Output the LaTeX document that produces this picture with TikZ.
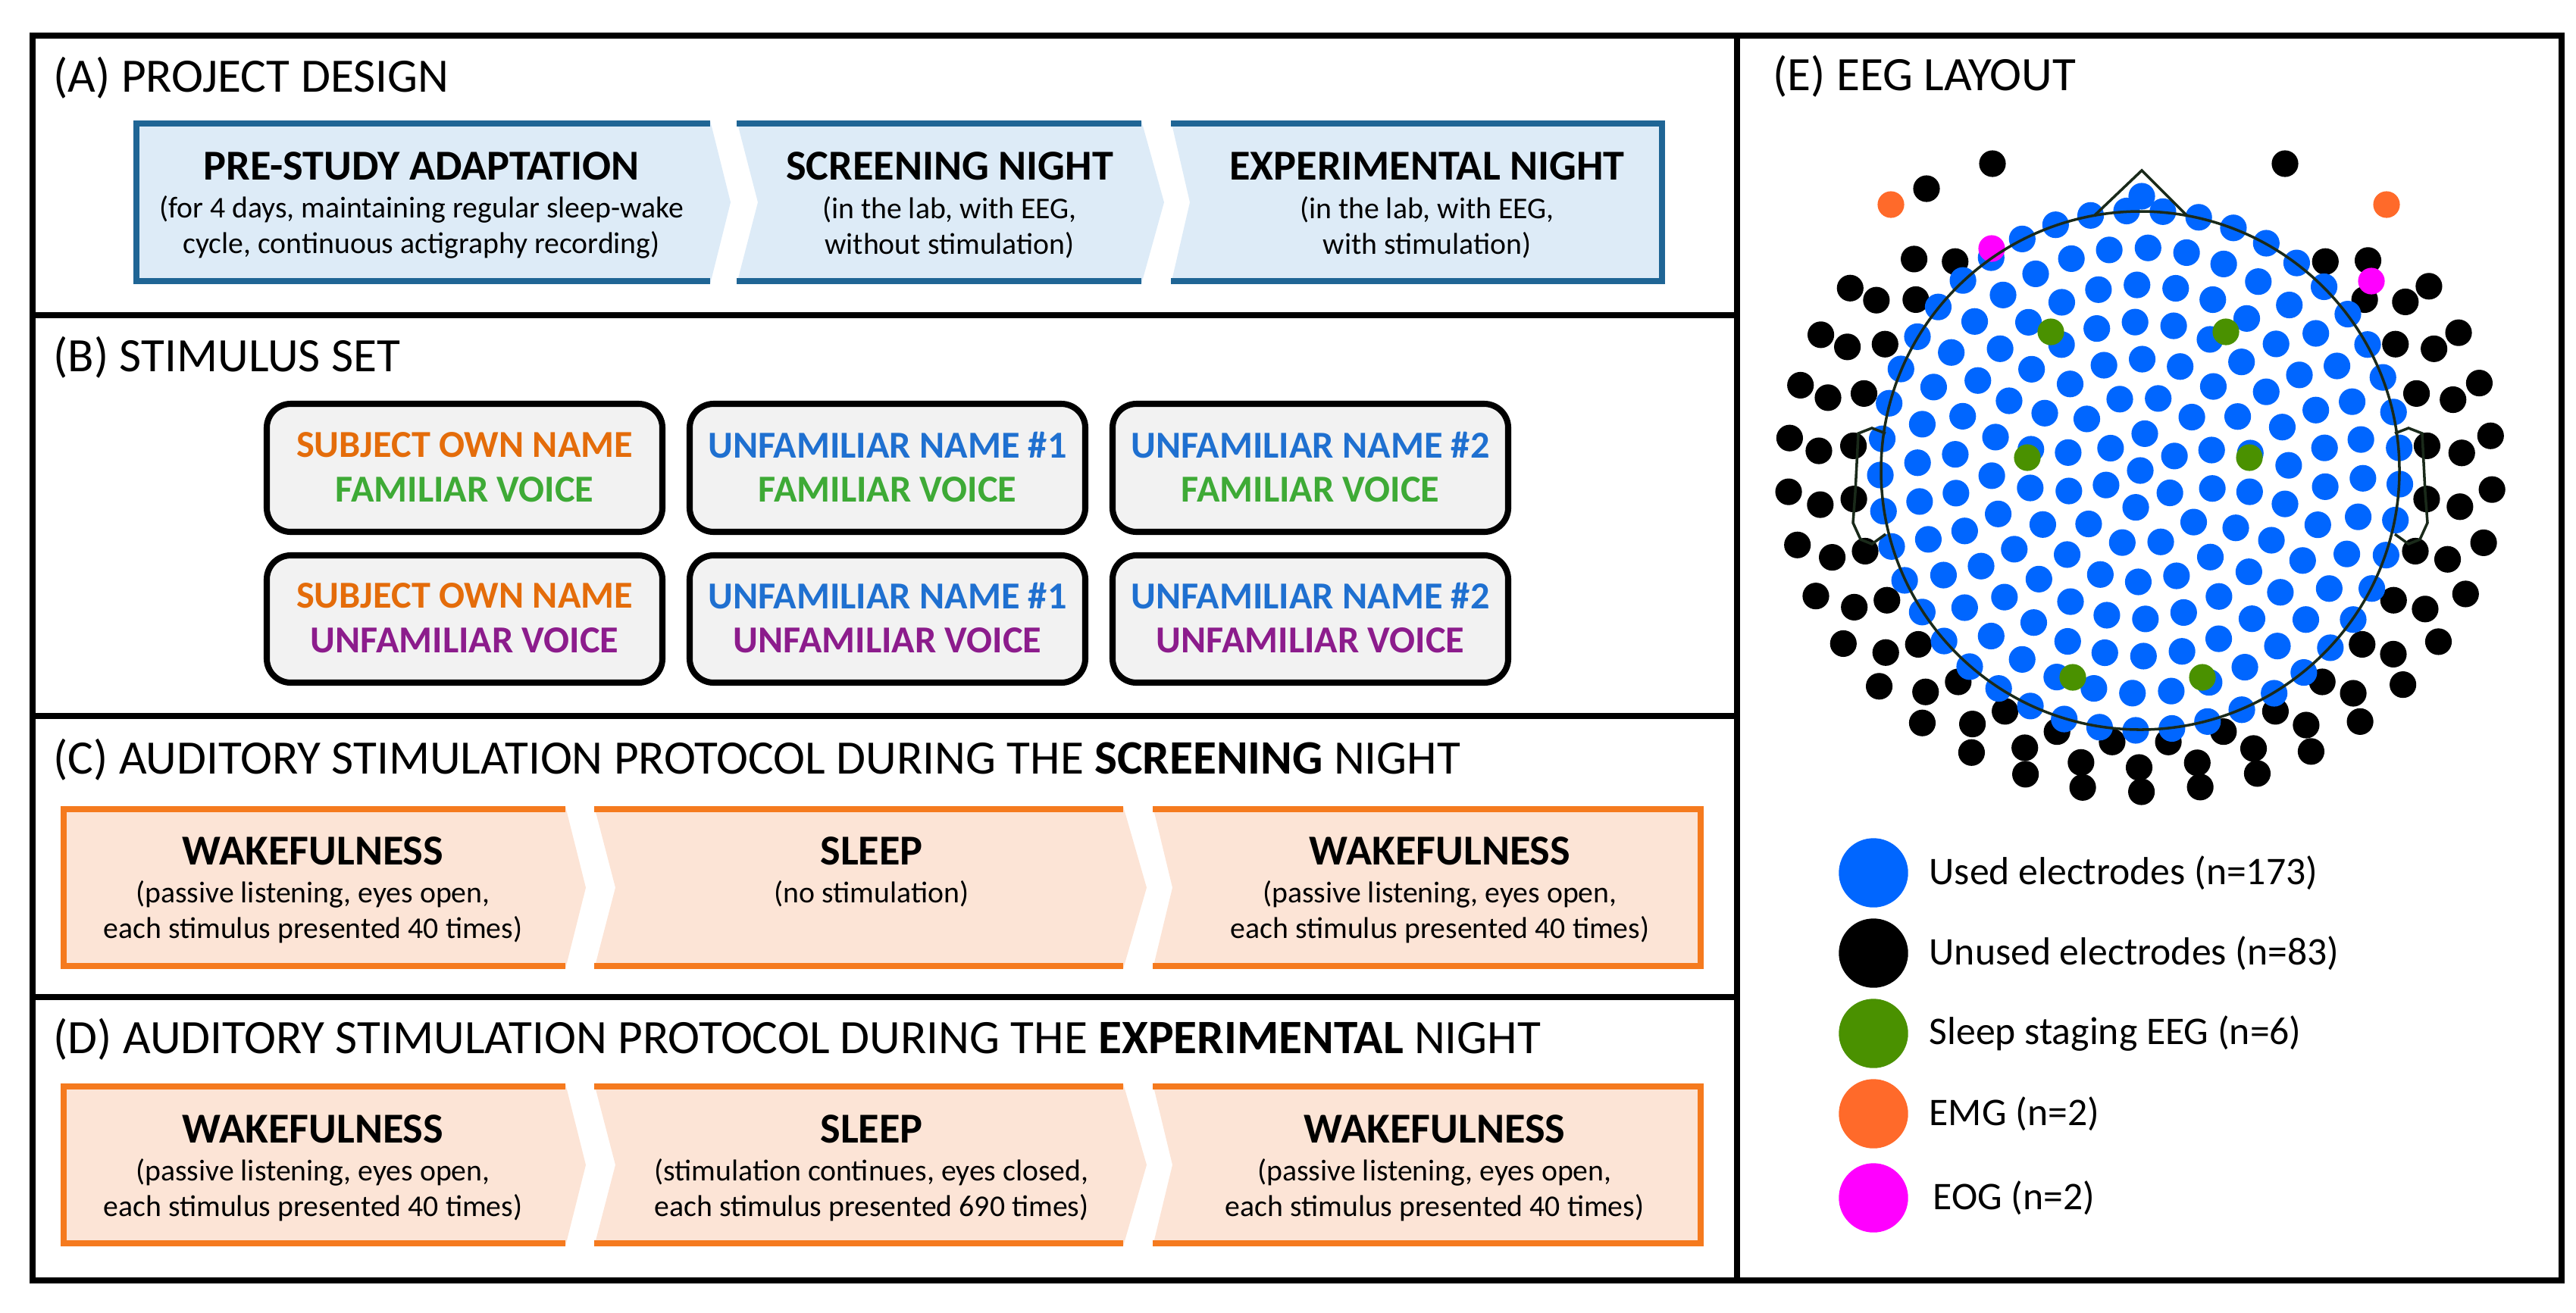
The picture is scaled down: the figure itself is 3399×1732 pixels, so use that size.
\documentclass[tikz,border=0pt]{standalone}
\usepackage{fontspec}
\setmainfont{Carlito}
\begin{document}
\begin{tikzpicture}[x=0.01cm,y=-0.01cm]
\definecolor{bstroke}{HTML}{1F6595}
\definecolor{bfill}{HTML}{DDEBF7}
\definecolor{ostroke}{HTML}{F57A1E}
\definecolor{ofill}{HTML}{FCE4D6}
\definecolor{tor}{HTML}{E46C0A}
\definecolor{tbl}{HTML}{1F70D0}
\definecolor{tgr}{HTML}{3EAA36}
\definecolor{tpu}{HTML}{8C1C8C}
\definecolor{eblue}{HTML}{0066FF}
\definecolor{egreen}{HTML}{4A9100}
\definecolor{eorange}{HTML}{FF6A2A}
\definecolor{emag}{HTML}{FF00FF}
\definecolor{head}{HTML}{1A2A1A}
\tikzset{
 frame/.style={line width=2.2pt},
 ttl/.style={anchor=west,font=\fontsize{18}{21}\selectfont,inner sep=0},
 ctitle/.style={font=\bfseries\fontsize{16}{19}\selectfont,inner sep=0},
 csub/.style={font=\fontsize{11.3}{13.3}\selectfont,align=center,inner sep=0},
 sbox/.style={draw=black,line width=2.3pt,fill=black!5,rounded corners=9pt},
 stxt/.style={font=\bfseries\fontsize{14.3}{17}\selectfont,inner sep=0},
 leg/.style={anchor=west,font=\fontsize{14.7}{17}\selectfont,inner sep=0},
}
\useasboundingbox (0,0) rectangle (3399,1732);
% frame
\draw[frame] (43,47) rectangle (3380,1690);
\draw[frame] (2292,47) -- (2292,1690);
\draw[frame] (43,416) -- (2292,416);
\draw[frame] (43,945) -- (2292,945);
\draw[frame] (43,1316) -- (2292,1316);
% titles
\node[ttl] (ta) at (70,103) {(A) PROJECT DESIGN};
\node[ttl] (tb) at (70,472) {(B) STIMULUS SET};
\node[ttl] (tc) at (70,1003) {(C) AUDITORY STIMULATION PROTOCOL DURING THE \textbf{SCREENING} NIGHT};
\node[ttl] (td) at (70,1372) {(D) AUDITORY STIMULATION PROTOCOL DURING THE \textbf{EXPERIMENTAL} NIGHT};
\node[ttl] (te) at (2339,101) {(E) EEG LAYOUT};
% (A) chevrons
\fill[bfill] (176,159)--(937,159)--(964,267)--(937,375)--(176,375)--cycle;
\fill[bfill] (972,159)--(1506,159)--(1536,267)--(1506,375)--(972,375)--(1000,267)--cycle;
\fill[bfill] (1545,159)--(2197,159)--(2197,375)--(1545,375)--(1570,267)--cycle;
\draw[bstroke,line width=2.3pt] (937,163)--(180,163)--(180,371)--(937,371);
\draw[bstroke,line width=2.3pt] (972,163)--(1506,163) (972,371)--(1506,371);
\draw[bstroke,line width=2.3pt] (1545,163)--(2193,163)--(2193,371)--(1545,371);
\node[ctitle] (a1) at (556,219) {PRE-STUDY ADAPTATION};
\node[csub] (a1s) at (556,300) {(for 4 days, maintaining regular sleep-wake\\cycle, continuous actigraphy recording)};
\node[ctitle] (a2) at (1253,219) {SCREENING NIGHT};
\node[csub] (a2s) at (1253,300) {(in the lab, with EEG,\\without stimulation)};
\node[ctitle] (a3) at (1883,219) {EXPERIMENTAL NIGHT};
\node[csub] (a3s) at (1883,300) {(in the lab, with EEG,\\with stimulation)};
% (B) boxes
\foreach \x/\nm/\c in {352/SUBJECT OWN NAME/tor, 910/UNFAMILIAR NAME \#1/tbl, 1468/UNFAMILIAR NAME \#2/tbl}{
  \draw[sbox] (\x,533) rectangle ++(522,169);
  \draw[sbox] (\x,733) rectangle ++(522,168);
  \node[stxt,text=\c] at (\x+261,587) {\nm};
  \node[stxt,text=tgr] at (\x+261,646) {FAMILIAR VOICE};
  \node[stxt,text=\c] at (\x+261,786) {\nm};
  \node[stxt,text=tpu] at (\x+261,845) {UNFAMILIAR VOICE};
}
% (C) and (D) chevrons
\foreach \yt/\lab in {1064/C,1430/D}{
  \pgfmathsetmacro\yb{\yt+215}
  \pgfmathsetmacro\ym{\yt+107.5}
  \fill[ofill] (80,\yt)--(746,\yt)--(773,\ym)--(746,\yb)--(80,\yb)--cycle;
  \fill[ofill] (784,\yt)--(1482,\yt)--(1513,\ym)--(1482,\yb)--(784,\yb)--(812,\ym)--cycle;
  \fill[ofill] (1521,\yt)--(2248,\yt)--(2248,\yb)--(1521,\yb)--(1547,\ym)--cycle;
  \draw[ostroke,line width=2.3pt] (746,\yt+4)--(84,\yt+4)--(84,\yb-4)--(746,\yb-4);
  \draw[ostroke,line width=2.3pt] (784,\yt+4)--(1482,\yt+4) (784,\yb-4)--(1482,\yb-4);
  \draw[ostroke,line width=2.3pt] (1521,\yt+4)--(2244,\yt+4)--(2244,\yb-4)--(1521,\yb-4);
}
\node[ctitle] (c1) at (413,1123) {WAKEFULNESS};
\node[csub] (c1s) at (413,1204) {(passive listening, eyes open,\\each stimulus presented 40 times)};
\node[ctitle] (c2) at (1150,1123) {SLEEP};
\node[csub] (c2s) at (1150,1180) {(no stimulation)};
\node[ctitle] (c3) at (1900,1123) {WAKEFULNESS};
\node[csub] (c3s) at (1900,1204) {(passive listening, eyes open,\\each stimulus presented 40 times)};
\node[ctitle] (d1) at (413,1490) {WAKEFULNESS};
\node[csub] (d1s) at (413,1571) {(passive listening, eyes open,\\each stimulus presented 40 times)};
\node[ctitle] (d2) at (1150,1490) {SLEEP};
\node[csub] (d2s) at (1150,1571) {(stimulation continues, eyes closed,\\each stimulus presented 690 times)};
\node[ctitle] (d3) at (1893,1490) {WAKEFULNESS};
\node[csub] (d3s) at (1893,1571) {(passive listening, eyes open,\\each stimulus presented 40 times)};
% (E) EEG head
\begin{scope}[shift={(2824,621)}]
 % unused electrodes
 \foreach \j in {0,...,25}{\pgfmathsetmacro\t{40+\j*11.2}
   \fill (({380*sin(\t)},{-360*cos(\t)}) circle (5pt);}
 \foreach \j in {0,...,26}{\pgfmathsetmacro\t{45+\j*10.4}
   \fill (({425*sin(\t)},{-392*cos(\t)}) circle (5pt);}
 \foreach \j in {0,...,26}{\pgfmathsetmacro\t{55+\j*9.6}
   \fill (({465*sin(\t)},{-424*cos(\t)}) circle (5pt);}
 \fill (-195,-405) circle (5pt) (191,-405) circle (5pt) (-282,-372) circle (5pt);
 % used electrodes
 \fill[eblue] (0,0) circle (5pt);
 \foreach \k/\n in {1/6,2/12,3/18,4/24,5/30,6/36,7/45}{
   \foreach \i in {1,...,\n}{\pgfmathsetmacro\a{90+360*\i/\n+\k*7}
     \fill[eblue] (\a:{\k*49}) circle (5pt);}}
 \fill[eblue] (2,-362) circle (5pt);
 % sleep staging
 \foreach \p in {(-118,-183),(113,-183),(-149,-17),(144,-17),(-89,273),(82,273)}
   \fill[egreen] \p circle (5pt);
 \fill[eorange] (-329,-351) circle (5pt) (325,-351) circle (5pt);
 \fill[emag] (-196,-293) circle (5pt) (305,-250) circle (5pt);
 % outline
 \draw[head,line width=1pt] (0,0) circle (342);
 \draw[head,line width=1pt] (-61,-336)--(2,-396)--(62,-336);
 \draw[head,line width=1pt] (-336,-49)--(-354,-56)--(-372,-49)--(-376,29)--(-379,69)--(-369,91)--(-354,97)--(-336,84);
 \draw[head,line width=1pt] (336,-49)--(354,-56)--(372,-49)--(376,29)--(379,69)--(369,91)--(354,97)--(336,84);
\end{scope}
% legend
\fill[eblue] (2472,1152) circle (13pt);
\fill[black] (2472,1258) circle (13pt);
\fill[egreen] (2472,1364) circle (13pt);
\fill[eorange] (2472,1470) circle (13pt);
\fill[emag] (2472,1581) circle (13pt);
\node[leg] (l1) at (2545,1152) {Used electrodes (n=173)};
\node[leg] (l2) at (2545,1258) {Unused electrodes (n=83)};
\node[leg] (l3) at (2545,1364) {Sleep staging EEG (n=6)};
\node[leg] (l4) at (2545,1470) {EMG (n=2)};
\node[leg] (l5) at (2550,1581) {EOG (n=2)};
\end{tikzpicture}
\end{document}
